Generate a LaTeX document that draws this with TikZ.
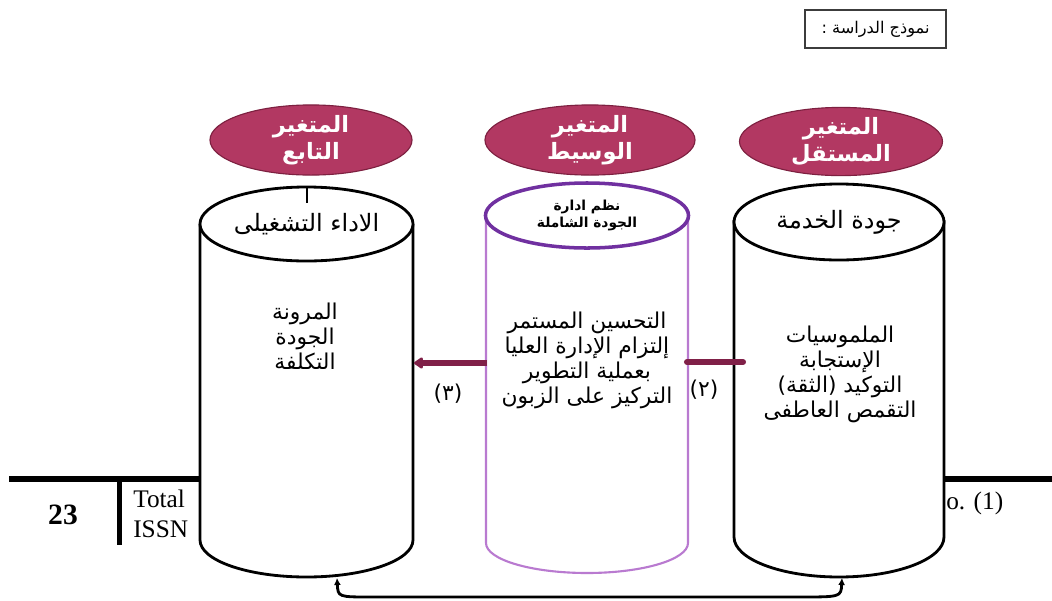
\documentclass[tikz,border=0pt]{standalone}
\usepackage{fontspec}
\setmainfont{Liberation Serif}
\newfontfamily\arabicfont[Script=Arabic]{DejaVu Sans}
\TeXXeTstate=1
\usetikzlibrary{shapes.geometric, arrows.meta}
\definecolor{headfill}{RGB}{178,56,98}
\definecolor{headline}{RGB}{125,32,64}
\definecolor{flowred}{RGB}{128,32,72}
\definecolor{cappurple}{RGB}{112,48,160}
\definecolor{bodypurple}{RGB}{185,122,208}
\definecolor{titleline}{RGB}{60,60,60}
\newcommand{\arline}[1]{\beginR #1\endR}

\begin{document}
\begin{tikzpicture}[x=0.025cm, y=-0.025cm]

        % Setup the styles for the variables
        \tikzset{head style/.style={ellipse,
                                    draw=headline,
                                    line width=0.8pt,
                                    fill=headfill,
                                    text=white,
                                    align=center,
                                    inner sep=0pt,
                                    font=\arabicfont\bfseries\fontsize{16}{19.2}\selectfont},
                 cap style/.style={ellipse,
                                   draw,
                                   line width=2pt,
                                   fill=white,
                                   inner sep=0pt,
                                   align=center,
                                   font=\arabicfont\fontsize{17}{19}\selectfont},
                 list style/.style={align=center,
                                    inner sep=0pt,
                                    font=\arabicfont\fontsize{15.5}{17.8}\selectfont},
                 body style/.style={draw, line width=2pt, fill=white},
                 flow/.style={line width=4.3pt, draw=flowred},
                 foot style/.style={anchor=base west, inner sep=0pt,
                                    font=\fontsize{18}{18}\selectfont}}

        \useasboundingbox (0, 0) rectangle (1052, 600);

        % Page footer behind the figure
        \draw[line width=4.3pt] (9, 479) -- (200, 479);
        \draw[line width=4.3pt] (944, 479) -- (1052, 479);
        \draw[line width=3.5pt] (119.5, 479) -- (119.5, 545);
        \node[font=\bfseries\fontsize{21}{21}\selectfont] at (63, 515) (pageNo) {23};
        \node[foot style] at (133, 507) (footTop) {Total};
        \node[foot style] at (133, 537) (footBot) {ISSN};
        \node[foot style] at (946, 509) (footRight) {o. (1)};

        % Link under the cylinders
        \coordinate (perfFoot) at (337, 578);
        \coordinate (svcFoot) at (842, 578);
        \draw[line width=2pt, {Latex[length=5pt, width=5pt]}-{Latex[length=5pt, width=5pt]}]
            (perfFoot) .. controls (338, 597) .. (372, 597) -- (798, 597)
            .. controls (841, 597) .. (svcFoot);

        % Draw the cylinders
        \draw[body style] (200, 224) -- (200, 540)
            arc[start angle=180, end angle=0, x radius=106.5, y radius=37] -- (413, 224);
        \draw[body style, draw=bodypurple, line width=1.5pt] (486, 215.5) -- (486, 543)
            arc[start angle=180, end angle=0, x radius=101, y radius=30] -- (688, 215.5);
        \draw[body style] (734, 220) -- (734, 537)
            arc[start angle=180, end angle=0, x radius=105, y radius=40] -- (944, 220);

        \node[cap style, minimum width=5.325cm, minimum height=1.85cm] at (306.5, 224) (perfCap)
            {\arline{الاداء التشغيلى}};
        \node[cap style, draw=cappurple, line width=2.5pt, minimum width=5.075cm, minimum height=1.625cm,
              font=\arabicfont\bfseries\fontsize{9.8}{12.3}\selectfont] at (587, 215.5) (tqmCap)
            {\arline{نظم ادارة}\\\arline{الجودة الشاملة}};
        \node[cap style, minimum width=5.25cm, minimum height=1.9cm] at (839, 222) (svcCap)
            {\arline{جودة الخدمة}};

        \coordinate (tickTop) at (307, 188);
        \coordinate (tickBot) at (307, 203);
        \draw[line width=1.5pt] (tickTop) -- (tickBot);

        % Dimensions inside the cylinders
        \node[list style] at (305, 336) (perfList)
            {\arline{المرونة}\\\arline{الجودة}\\\arline{التكلفة}};
        \node[list style] at (587, 360) (tqmList)
            {\arline{التحسين المستمر}\\\arline{إلتزام الإدارة العليا}\\
             \arline{بعملية التطوير}\\\arline{التركيز على الزبون}};
        \node[list style] at (840, 374) (svcList)
            {\arline{الملموسيات}\\\arline{الإستجابة}\\
             \arline{التوكيد (الثقة)}\\\arline{التقمص العاطفى}};

        % Variable headers
        \node[head style, minimum width=5.05cm, minimum height=1.625cm] at (311, 140) (depHead)
            {\arline{المتغير}\\\arline{التابع}};
        \node[head style, minimum width=5.25cm, minimum height=1.625cm] at (590, 140) (medHead)
            {\arline{المتغير}\\\arline{الوسيط}};
        \node[head style, minimum width=5.075cm, minimum height=1.675cm] at (841, 141.5) (indHead)
            {\arline{المتغير}\\\arline{المستقل}};

        % Connect the cylinders with arrows
        \coordinate (tqmWest) at (487, 363);
        \coordinate (perfEast) at (414, 363);
        \coordinate (tqmEast) at (687, 362);
        \coordinate (svcWest) at (743, 362);
        \draw[flow, -{Triangle[length=7pt, width=9pt, round]}] (tqmWest) -- (perfEast);
        \draw[flow, line cap=round] (tqmEast) -- (svcWest);
        \node[list style] at (448, 394) (lblThree) {(٣)};
        \node[list style] at (704, 390) (lblTwo) {(٢)};

        % Model title
        \node[draw=titleline, line width=1.2pt, minimum width=3.525cm, minimum height=0.95cm,
              font=\arabicfont\fontsize{11.5}{11.5}\selectfont] at (875.5, 29) (modelTitle)
            {\arline{نموذج الدراسة :}};
    \end{tikzpicture}
\end{document}
